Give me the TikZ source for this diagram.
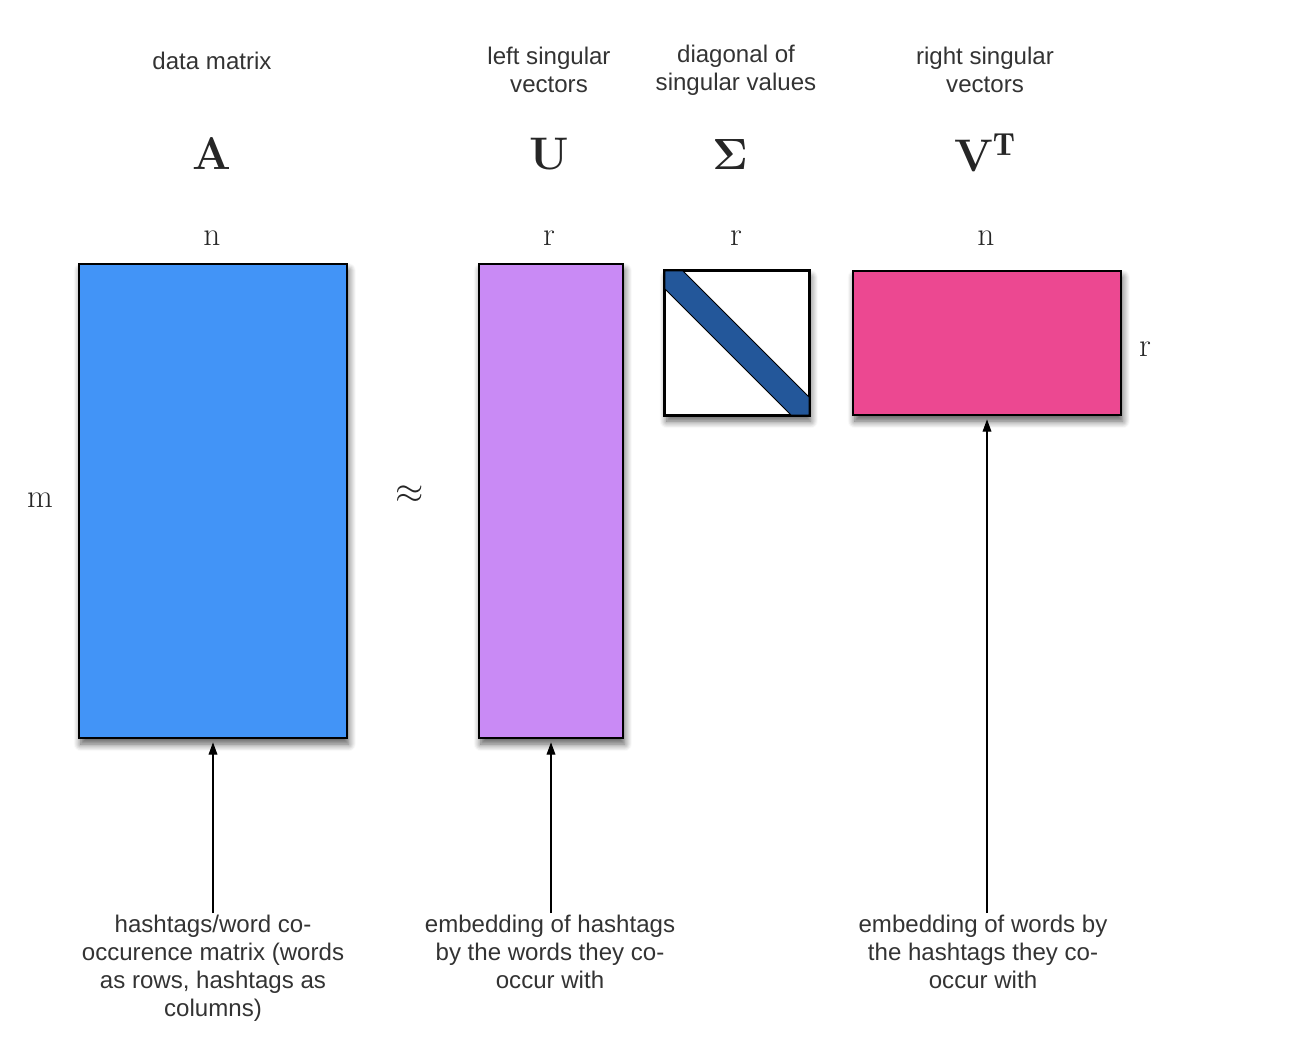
\documentclass[tikz,border=0pt]{standalone}
\usepackage{amsmath}
\usepackage{fontspec}
\newfontfamily\labelfont{Liberation Sans}
\usetikzlibrary{arrows.meta, shadows.blur, positioning}

\definecolor{matblue}{HTML}{4294F7}
\definecolor{matpurple}{HTML}{C98AF5}
\definecolor{matpink}{HTML}{EC4891}
\definecolor{diagblue}{HTML}{23579A}

\begin{document}
\begin{tikzpicture}[x=0.02cm, y=-0.02cm,
    mat/.style={draw=black, line width=1pt, inner sep=0pt,
        blur shadow={shadow xshift=1pt, shadow yshift=-3.5pt, shadow blur radius=4pt,
            shadow blur steps=8, shadow opacity=65}},
    note/.style={font=\labelfont\fontsize{13.7}{16}\selectfont, text=black!80, align=center, inner sep=1pt},
    sym/.style={font=\fontsize{26}{30}\selectfont\bfseries, text=black!85, anchor=base},
    dim/.style={font=\fontsize{19}{20}\selectfont, text=black!85, anchor=base},
    up/.style={-{Triangle[length=7pt,width=5pt]}, line width=0.6pt, shorten >=2pt}]
    \useasboundingbox (0,0) rectangle (1290,1056);

    % Draw the four matrices
    \node[mat, fill=matblue, minimum width=5.36cm, minimum height=9.48cm] (matA) at (213,501) {};
    \node[mat, fill=matpurple, minimum width=2.88cm, minimum height=9.48cm] (matU) at (551,501) {};
    \node[mat, fill=white, minimum width=2.88cm, minimum height=2.88cm] (matS) at (737,343) {};
    \node[mat, fill=matpink, minimum width=5.36cm, minimum height=2.88cm] (matV) at (987,343) {};

    % Diagonal band of Sigma
    \draw[fill=diagblue, line width=0.5pt] (665,271) -- (683,271) -- (809,397) -- (809,415)
        -- (791,415) -- (665,289) -- cycle;
    \draw[line width=1pt] (matS.north west) rectangle (matS.south east);

    % Headings
    \node[note] (headA) at (212,61) {data matrix};
    \node[note] (headU) at (549,70) {left singular\\vectors};
    \node[note] (headS) at (736,70) {diagonal of\\singular values};
    \node[note] (headV) at (985,70) {right singular\\vectors};

    % Symbols
    \node[sym] (symA) at (212,169) {A};
    \node[sym] (symU) at (549,169) {U};
    \node[sym] (symS) at (730,169) {$\boldsymbol{\Sigma}$};
    \node[sym] (symV) at (985,171) {V$^{\mathbf{T}}$};

    % Dimensions
    \node[dim] (dimAn) at (212,245) {n};
    \node[dim] (dimUr) at (549,245) {r};
    \node[dim] (dimSr) at (736,245) {r};
    \node[dim] (dimVn) at (986,245) {n};
    \node[dim] (dimVr) at (1145,356) {r};
    \node[dim] (dimAm) at (40,507) {m};
    \node[font=\fontsize{20}{20}\selectfont, text=black!85] (approx) at (410,495) {$\approx$};

    % Notes below, with arrows
    \node[note, anchor=north] (noteA) at (213,913) {hashtags/word co-\\occurence matrix (words\\as rows, hashtags as\\columns)};
    \node[note, anchor=north] (noteU) at (550,913) {embedding of hashtags\\by the words they co-\\occur with};
    \node[note, anchor=north] (noteV) at (983,913) {embedding of words by\\the hashtags they co-\\occur with};
    \draw[up] (noteA.north) -- (matA.south);
    \draw[up] (noteU.north -| matU.south) -- (matU.south);
    \draw[up] (noteV.north -| matV.south) -- (matV.south);
\end{tikzpicture}
\end{document}
